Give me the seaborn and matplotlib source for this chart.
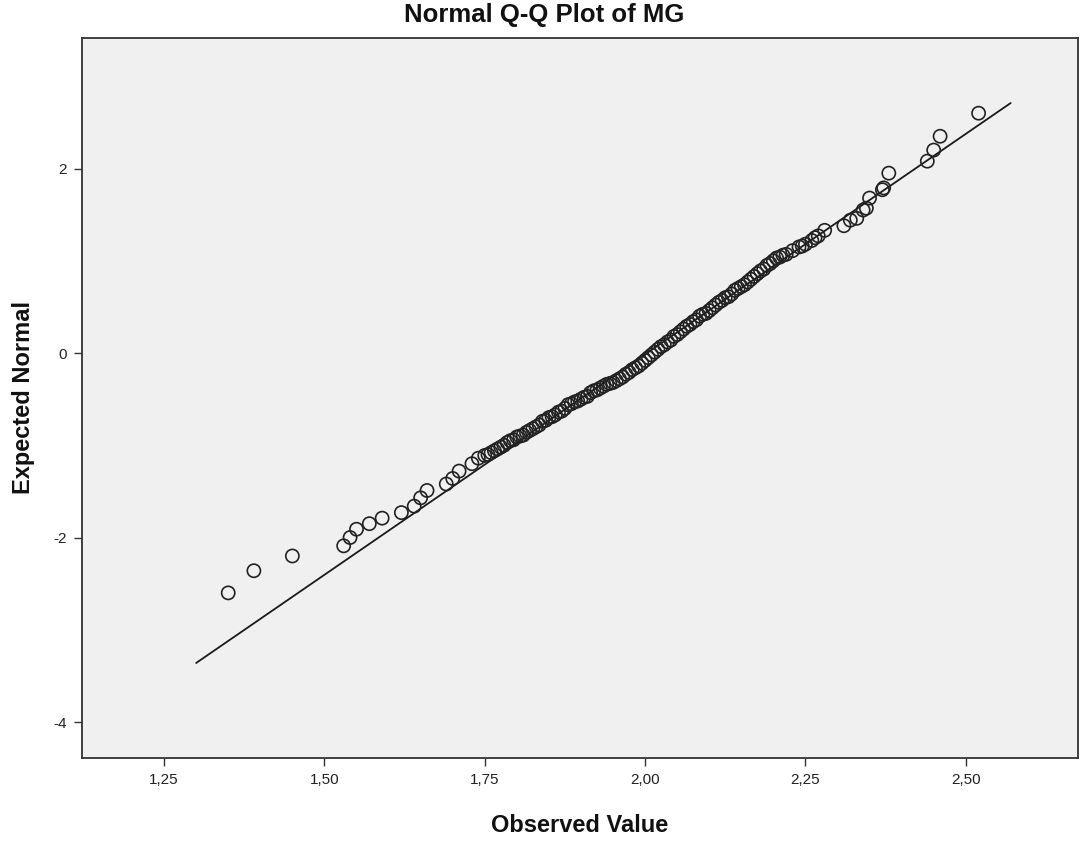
import matplotlib
matplotlib.use("Agg")
import matplotlib.pyplot as plt
import numpy as np
import pandas as pd
import seaborn as sns

observed = [
    1.35, 1.39, 1.45, 1.53, 1.54, 1.55, 1.57, 1.59, 1.62, 1.64,
    1.65, 1.66, 1.69, 1.70, 1.71, 1.73, 1.74,
    1.750, 1.755, 1.760, 1.765, 1.770, 1.775, 1.780, 1.785, 1.790, 1.795,
    1.800, 1.805, 1.810, 1.815, 1.820, 1.825, 1.830, 1.835, 1.840, 1.845,
    1.850, 1.855, 1.860, 1.865, 1.870, 1.875, 1.880, 1.885, 1.890, 1.895,
    1.900, 1.905, 1.910, 1.915, 1.920, 1.925, 1.930, 1.935, 1.940, 1.945,
    1.950, 1.955, 1.960, 1.965, 1.970, 1.975, 1.980, 1.985, 1.990, 1.995,
    2.000, 2.005, 2.010, 2.015, 2.020, 2.025, 2.030, 2.035, 2.040, 2.045,
    2.050, 2.055, 2.060, 2.065, 2.070, 2.075, 2.080, 2.085, 2.090, 2.095,
    2.100, 2.105, 2.110, 2.115, 2.120, 2.125, 2.130, 2.135, 2.140, 2.145,
    2.150, 2.155, 2.160, 2.165, 2.170, 2.175, 2.180, 2.185, 2.190, 2.195,
    2.200, 2.205, 2.210, 2.215, 2.220, 2.230, 2.240, 2.245, 2.250, 2.260,
    2.265, 2.270, 2.280,
    2.31, 2.32, 2.33, 2.34, 2.345, 2.35, 2.37, 2.372, 2.38, 2.44,
    2.45, 2.46, 2.52,
]
expected = [
    -2.60, -2.36, -2.20, -2.09, -2.00, -1.91, -1.85, -1.79, -1.73, -1.66,
    -1.57, -1.49, -1.42, -1.36, -1.28, -1.20, -1.14,
    -1.11, -1.10, -1.08, -1.06, -1.04, -1.02, -1.00, -0.97, -0.95, -0.94,
    -0.91, -0.90, -0.89, -0.86, -0.84, -0.82, -0.80, -0.78, -0.74, -0.73,
    -0.70, -0.69, -0.67, -0.64, -0.63, -0.60, -0.56, -0.55, -0.53, -0.52,
    -0.50, -0.48, -0.47, -0.43, -0.41, -0.40, -0.38, -0.36, -0.34, -0.33,
    -0.32, -0.30, -0.28, -0.26, -0.23, -0.21, -0.18, -0.16, -0.14, -0.11,
    -0.08, -0.05, -0.02, 0.01, 0.04, 0.07, 0.09, 0.12, 0.14, 0.18,
    0.20, 0.23, 0.26, 0.29, 0.31, 0.34, 0.36, 0.40, 0.42, 0.43,
    0.46, 0.49, 0.52, 0.55, 0.57, 0.60, 0.61, 0.64, 0.68, 0.70,
    0.72, 0.74, 0.77, 0.80, 0.83, 0.86, 0.89, 0.91, 0.95, 0.97,
    1.00, 1.03, 1.04, 1.06, 1.07, 1.11, 1.15, 1.16, 1.18, 1.22,
    1.25, 1.27, 1.33,
    1.38, 1.44, 1.46, 1.55, 1.57, 1.68, 1.77, 1.79, 1.95, 2.08,
    2.20, 2.35, 2.60,
]

# Retta di riferimento (media 2,00 / dev. std 0,21)
line_x = [1.30, 2.57]
line_y = [-3.36, 2.71]

x_ticks = [1.25, 1.50, 1.75, 2.00, 2.25, 2.50]
x_tick_labels = ["1,25", "1,50", "1,75", "2,00", "2,25", "2,50"]
y_ticks = [-4, -2, 0, 2]
y_tick_labels = ["-4", "-2", "0", "2"]

sns.set_theme(style="ticks")
plt.rcParams["font.family"] = ["Liberation Sans", "DejaVu Sans"]

W, H = 1088, 846
fig = plt.figure(figsize=(W / 100, H / 100), dpi=100)
ax = fig.add_axes([82 / W, 1 - 758 / H, (1078 - 82) / W, (758 - 38) / H])
ax.set_facecolor("#f0f0f0")

sns.lineplot(x=line_x, y=line_y, ax=ax, color="#1a1a1a", linewidth=1.3)
sns.scatterplot(
    x=observed,
    y=expected,
    ax=ax,
    marker="o",
    s=90,
    facecolor="none",
    edgecolor="#222222",
    linewidth=1.2,
    zorder=3,
)

ax.set_xlim(1.122, 2.675)
ax.set_ylim(-4.39, 3.415)
ax.set_xticks(x_ticks)
ax.set_xticklabels(x_tick_labels)
ax.set_yticks(y_ticks)
ax.set_yticklabels(y_tick_labels)
ax.tick_params(axis="both", direction="out", length=6, width=1.0,
               color="#333333", labelsize=11, labelcolor="#222222", pad=5)

for side in ["left", "bottom", "top", "right"]:
    ax.spines[side].set_visible(True)
    ax.spines[side].set_color("#333333")
    ax.spines[side].set_linewidth(1.3)

ax.set_xlabel("Observed Value", fontsize=17, fontweight="bold", color="#111111")
ax.set_ylabel("Expected Normal", fontsize=17, fontweight="bold", color="#111111")
ax.xaxis.set_label_coords(0.5, -0.078)
ax.yaxis.set_label_coords(-0.047, 0.5)

fig.text(0.5, 1 - 15 / H, "Normal Q-Q Plot of MG", ha="center", va="center",
         fontsize=18.5, fontweight="bold", color="#111111")

plt.savefig("out.png", dpi=100)
